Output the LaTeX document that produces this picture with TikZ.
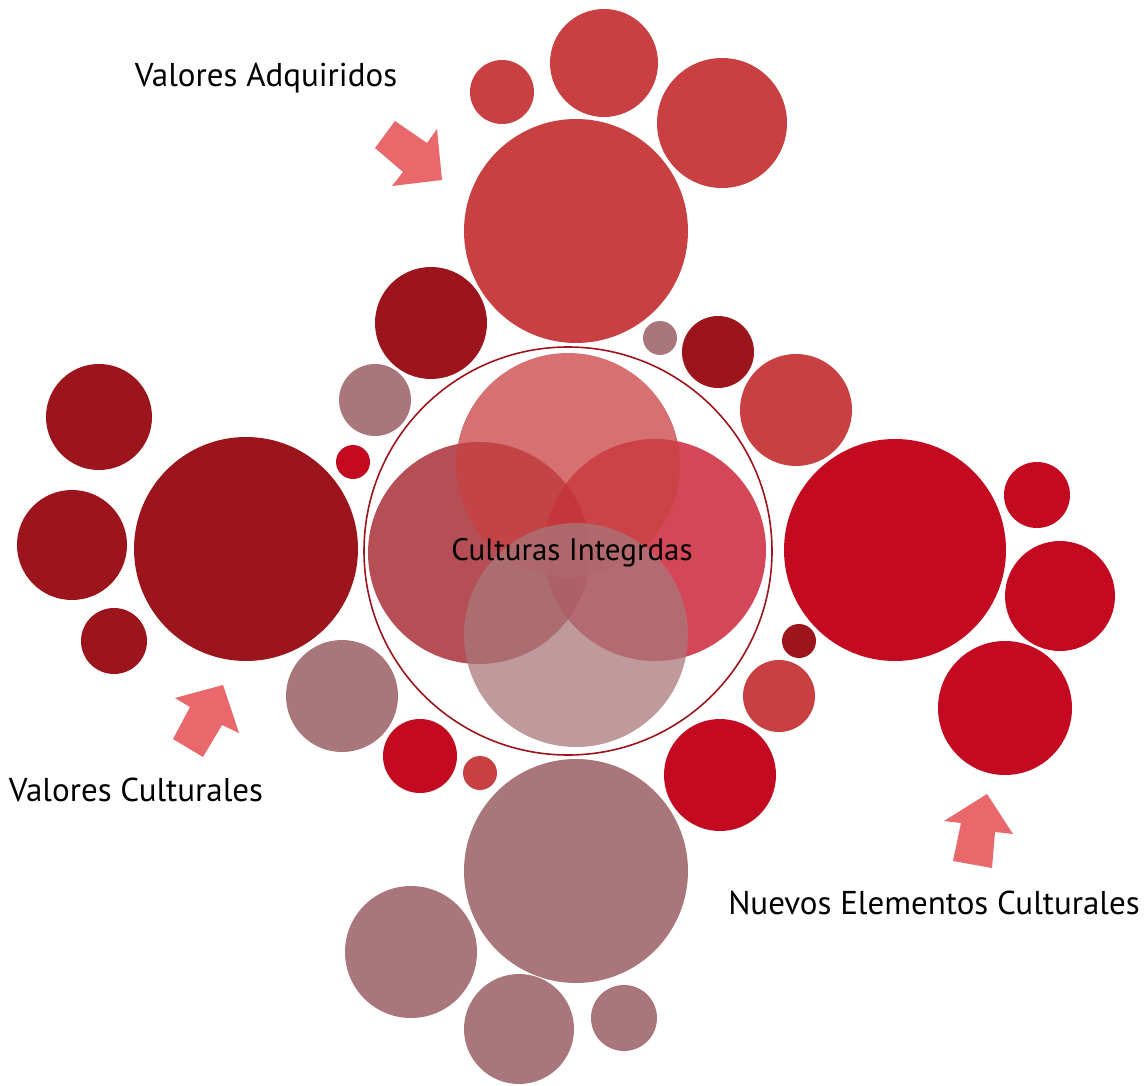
\documentclass[tikz,border=0pt]{standalone}
\usepackage{fontspec}
\setmainfont{PT Sans}
\definecolor{rojoosc}{HTML}{9C141C}
\definecolor{rojo}{HTML}{C40A20}
\definecolor{rojomed}{HTML}{C84042}
\definecolor{malva}{HTML}{A9777B}
\definecolor{flecha}{HTML}{E8686B}
\begin{document}
\begin{tikzpicture}[x=1pt,y=-1pt,
	etiqueta/.style={font=\fontsize{33}{38}\selectfont, inner sep=0pt},
	cruce/.style={opacity=.75}]
	\useasboundingbox (0,0) rectangle (1146,1086);
	% grupo superior
	\foreach \x/\y/\r in {576/231/112, 604/63/54, 722/123/65, 502/92/32, 796/410/56, 779/696/36, 480/773/17}
		\fill[rojomed] (\x,\y) circle[radius=\r];
	% grupo izquierdo
	\foreach \x/\y/\r in {246/549/112, 99/417/53, 72/545/55, 114/641/33, 431/323/56, 718/352/36, 799/641/17}
		\fill[rojoosc] (\x,\y) circle[radius=\r];
	% grupo derecho
	\foreach \x/\y/\r in {895/550/111, 1037/495/33, 1060/596/55, 1005/708/67, 720/775/56, 420/756/37, 353/462/17}
		\fill[rojo] (\x,\y) circle[radius=\r];
	% grupo inferior
	\foreach \x/\y/\r in {576/871/112, 411/952/66, 519/1029/55, 624/1018/33, 342/696/56, 375/400/36, 660/338/17}
		\fill[malva] (\x,\y) circle[radius=\r];
	% anillo central
	\draw[rojoosc, line width=1.6] (568,551) circle[radius=204];
	\fill[rojoosc, cruce] (479,553) circle[radius=111];
	\fill[rojo, cruce] (655,550) circle[radius=111];
	\fill[rojomed, cruce] (568,465) circle[radius=112];
	\fill[malva, cruce] (576,635) circle[radius=112];
	% flechas
	\fill[flecha] (375,148) -- (395,121) -- (427,143) -- (437,129) -- (442,180) -- (392,186) -- (403,172) -- cycle;
	\fill[flecha] (175,698) -- (223,685) -- (239,733) -- (222,725) -- (203,757) -- (173,739) -- (190,707) -- cycle;
	\fill[flecha] (944,821) -- (987,794) -- (1013,834) -- (995,832) -- (992,868) -- (953,861) -- (961,823) -- cycle;
	% textos
	\node[etiqueta] (adquiridos) at (266,78) {Valores Adquiridos};
	\node[etiqueta] (culturales) at (136,790) {Valores Culturales};
	\node[etiqueta] (nuevos) at (934,903) {Nuevos Elementos Culturales};
	\node[etiqueta, font=\fontsize{31}{36}\selectfont] (integradas) at (572,553) {Culturas Integrdas};
\end{tikzpicture}
\end{document}
